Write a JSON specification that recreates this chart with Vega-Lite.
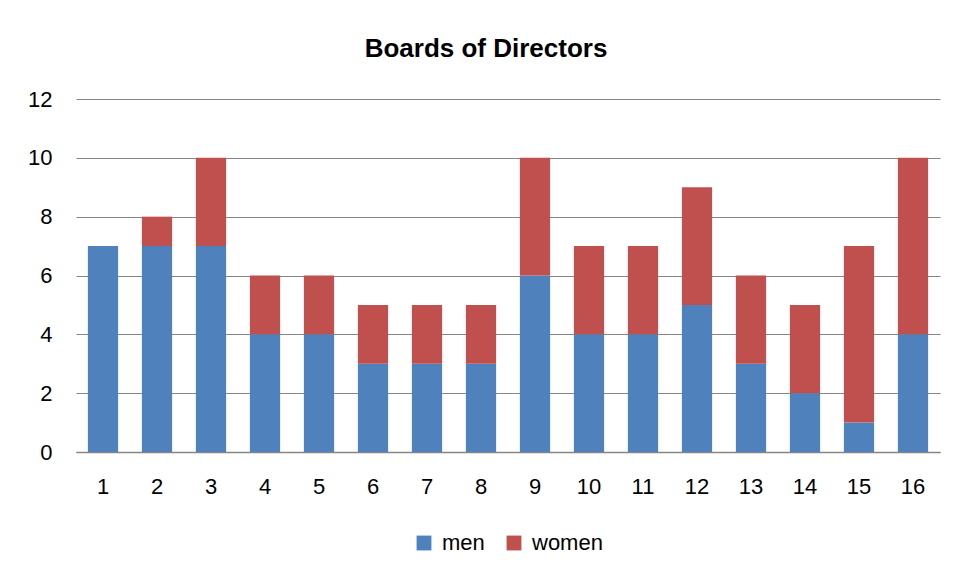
{
  "$schema": "https://vega.github.io/schema/vega-lite/v6.json",
  "width": 864,
  "height": 353,
  "autosize": {"type": "none"},
  "padding": {"left": 76, "top": 99, "right": 18, "bottom": 128},
  "background": "white",
  "title": {
    "text": "Boards of Directors",
    "font": "Liberation Sans",
    "fontSize": 26,
    "fontWeight": "bold",
    "color": "#000000",
    "anchor": "middle",
    "dx": -22,
    "offset": 26
  },
  "data": {
    "values": [
      {"board": 1, "gender": "men", "count": 7}, {"board": 1, "gender": "women", "count": 0},
      {"board": 2, "gender": "men", "count": 7}, {"board": 2, "gender": "women", "count": 1},
      {"board": 3, "gender": "men", "count": 7}, {"board": 3, "gender": "women", "count": 3},
      {"board": 4, "gender": "men", "count": 4}, {"board": 4, "gender": "women", "count": 2},
      {"board": 5, "gender": "men", "count": 4}, {"board": 5, "gender": "women", "count": 2},
      {"board": 6, "gender": "men", "count": 3}, {"board": 6, "gender": "women", "count": 2},
      {"board": 7, "gender": "men", "count": 3}, {"board": 7, "gender": "women", "count": 2},
      {"board": 8, "gender": "men", "count": 3}, {"board": 8, "gender": "women", "count": 2},
      {"board": 9, "gender": "men", "count": 6}, {"board": 9, "gender": "women", "count": 4},
      {"board": 10, "gender": "men", "count": 4}, {"board": 10, "gender": "women", "count": 3},
      {"board": 11, "gender": "men", "count": 4}, {"board": 11, "gender": "women", "count": 3},
      {"board": 12, "gender": "men", "count": 5}, {"board": 12, "gender": "women", "count": 4},
      {"board": 13, "gender": "men", "count": 3}, {"board": 13, "gender": "women", "count": 3},
      {"board": 14, "gender": "men", "count": 2}, {"board": 14, "gender": "women", "count": 3},
      {"board": 15, "gender": "men", "count": 1}, {"board": 15, "gender": "women", "count": 6},
      {"board": 16, "gender": "men", "count": 4}, {"board": 16, "gender": "women", "count": 6}
    ]
  },
  "mark": {"type": "bar"},
  "encoding": {
    "x": {
      "field": "board",
      "type": "ordinal",
      "scale": {"paddingInner": 0.44, "paddingOuter": 0.22},
      "axis": {
        "title": null,
        "labelAngle": 0,
        "labelFont": "Liberation Sans",
        "labelFontSize": 22,
        "labelColor": "#000000",
        "labelPadding": 24,
        "ticks": false,
        "domainColor": "#868686",
        "domainWidth": 1.5,
        "grid": false
      }
    },
    "y": {
      "field": "count",
      "type": "quantitative",
      "stack": "zero",
      "scale": {"domain": [0, 12], "nice": false},
      "axis": {
        "title": null,
        "values": [0, 2, 4, 6, 8, 10, 12],
        "labelFont": "Liberation Sans",
        "labelFontSize": 22,
        "labelColor": "#000000",
        "labelPadding": 24,
        "ticks": false,
        "domain": false,
        "grid": true,
        "gridColor": "#868686",
        "gridWidth": 1.2
      }
    },
    "color": {
      "field": "gender",
      "type": "nominal",
      "scale": {"domain": ["men", "women"], "range": ["#4F81BD", "#C0504D"]},
      "legend": {
        "title": null,
        "orient": "bottom",
        "direction": "horizontal",
        "symbolType": "square",
        "symbolSize": 220,
        "symbolStrokeWidth": 0,
        "labelFont": "Liberation Sans",
        "labelFontSize": 22,
        "labelColor": "#000000",
        "columnPadding": 18,
        "offset": 35,
        "labelOffset": 7
      }
    },
    "order": {"field": "gender", "sort": "ascending"}
  },
  "config": {
    "view": {"stroke": null},
    "legend": {"layout": {"bottom": {"anchor": "middle"}}}
  }
}
